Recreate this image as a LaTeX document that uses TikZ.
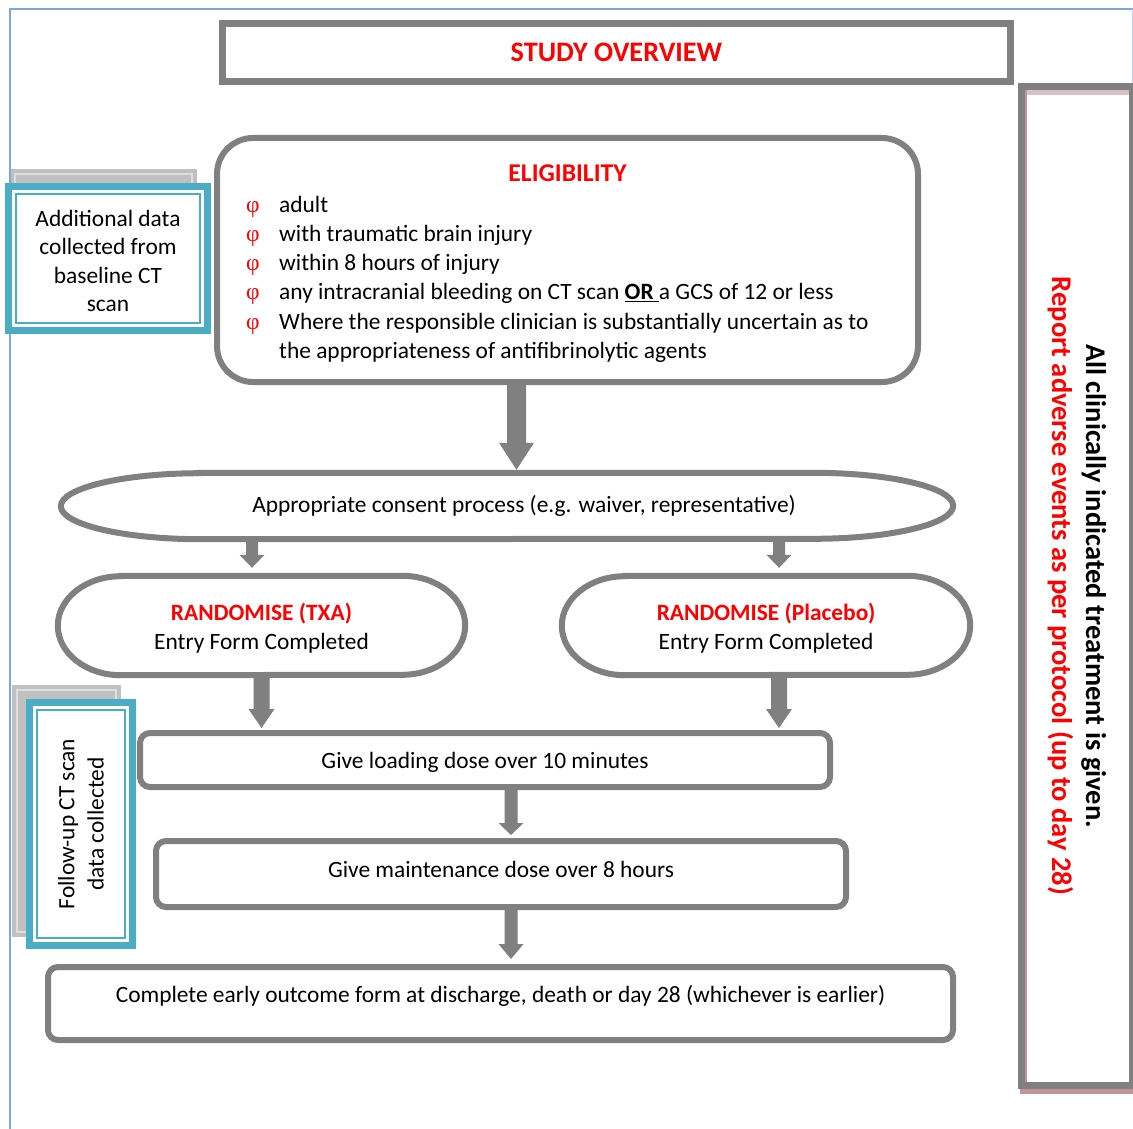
\documentclass[tikz,border=0pt]{standalone}
\usepackage{fontspec}
\setmainfont{Carlito}
\newfontfamily\phifont{Liberation Serif}
\usetikzlibrary{calc}
\definecolor{framegray}{RGB}{128,128,128}
\definecolor{tealblue}{RGB}{75,172,198}
\definecolor{pageblue}{RGB}{125,168,222}
\definecolor{shadowgray}{RGB}{192,192,192}
\definecolor{shadowlight}{RGB}{222,222,222}
\definecolor{rosy}{RGB}{192,150,153}
\newcommand\critbullet{\textcolor{red}{\phifont φ}}
% block arrow: start, end, shaft half width, head half width, head length
\newcommand\blockarrow[5]{\fill[framegray] let \p1=(#1), \p2=(#2) in
  (\x1-#3,\y1) -- (\x1+#3,\y1) -- (\x1+#3,\y2+#5) -- (\x1+#4,\y2+#5) -- (\x1,\y2)
  -- (\x1-#4,\y2+#5) -- (\x1-#3,\y2+#5) -- cycle;}
% frame with elliptic ends around a node
\newcommand\capframe[3]{\draw[frame] ([xshift=#2]#1.north west) -- ([xshift=-#2]#1.north east)
  arc[start angle=90,end angle=-90,x radius=#2,y radius=#3]
  -- ([xshift=#2]#1.south west)
  arc[start angle=270,end angle=90,x radius=#2,y radius=#3] -- cycle;}
\begin{document}
\begin{tikzpicture}[x=1pt,y=-1pt,font=\fontsize{23.4}{29.3}\selectfont,
  frame/.style={draw=framegray,line width=6pt},
  stepbox/.style={frame,rounded corners=10pt,inner sep=0pt},
  bluebox/.style={draw=tealblue,line width=7pt,align=center,inner sep=0pt,outer sep=0pt},
  redbold/.style={text=red,font=\fontsize{23.4}{29.3}\selectfont\bfseries}]
\useasboundingbox (0,0) rectangle (1133,1129);
\fill[white] (0,0) rectangle (1133,1129);
% page border
\draw[pageblue,line width=2pt] (9.5,1129) -- (9.5,9.5) -- (1133,9.5);
\draw[pageblue!50,line width=1pt] (1132,9.5) -- (1132,83);

% title
\node[draw=framegray,line width=7pt,minimum width=788pt,minimum height=58pt,redbold,
  font=\fontsize{28.2}{33}\selectfont\bfseries] (title) at (616.5,52.5) {STUDY OVERVIEW};

% eligibility
\node[frame,rounded corners=36pt,minimum width=701pt,minimum height=244pt] (elig) at (567.5,260) {};
\node[redbold,font=\fontsize{25.6}{30}\selectfont\bfseries] (eligt) at (567.5,173) {ELIGIBILITY};
\node[anchor=base west,inner sep=0pt] (crit) at (246,212) {\begin{tabular}[t]{@{}p{33pt}@{}l@{}}
\critbullet & adult\\
\critbullet & with traumatic brain injury\\
\critbullet & within 8 hours of injury\\
\critbullet & any intracranial bleeding on CT scan \underline{\textbf{OR }}a GCS of 12 or less\\
\critbullet & Where the responsible clinician is substantially uncertain as to\\
 & the appropriateness of antifibrinolytic agents
\end{tabular}};

% consent
\node[minimum width=892pt,minimum height=66pt,inner sep=0pt,
  label={[xshift=17pt]center:Appropriate consent process (e.g. waiver, representative)}] (cons) at (507,506) {};
\capframe{cons}{140pt}{33pt}

% randomise
\node[minimum width=407pt,minimum height=99pt,inner sep=0pt,
  label={[align=center,yshift=-2.5pt]center:{\textcolor{red}{\bfseries RANDOMISE (TXA)}\\Entry Form Completed}}] (txa) at (261.5,625.5) {};
\capframe{txa}{63pt}{49.5pt}
\node[minimum width=408pt,minimum height=99pt,inner sep=0pt,
  label={[align=center,yshift=-2.5pt]center:{\textcolor{red}{\bfseries RANDOMISE (Placebo)}\\Entry Form Completed}}] (plc) at (766,625.5) {};
\capframe{plc}{63pt}{49.5pt}

% steps
\node[stepbox,minimum width=690pt,minimum height=54pt,
  label={[yshift=-2pt]center:Give loading dose over 10 minutes}] (load) at (485,760) {};
\node[stepbox,minimum width=690pt,minimum height=66pt,
  label={[yshift=5pt]center:Give maintenance dose over 8 hours}] (maint) at (501,874) {};
\node[stepbox,minimum width=905pt,minimum height=73pt,
  label={[yshift=7.5pt]center:Complete early outcome form at discharge, death or day 28 (whichever is earlier)}] (final) at (500.5,1003.5) {};

% arrows
\blockarrow{$(elig.south)+(-51,0)$}{$(cons.north)+(0,-3)$}{9.5pt}{17.5pt}{27pt}
\blockarrow{$(cons.south)+(-255,0)$}{$(txa.north)+(0,-8)$}{6pt}{12.5pt}{13pt}
\blockarrow{$(cons.south)+(272,0)$}{$(plc.north)+(0,-8)$}{6pt}{12.5pt}{13pt}
\blockarrow{txa.south}{$(load.north)+(0,-2)$}{8pt}{13pt}{19pt}
\blockarrow{$(plc.south)+(13,0)$}{$(load.north)+(0,-2)$}{8pt}{13pt}{19pt}
\blockarrow{$(load.south)+(26,0)$}{$(maint.north)+(0,-3)$}{6.5pt}{12.5pt}{12pt}
\blockarrow{$(maint.south)+(10,0)$}{$(final.north)+(0,-5)$}{6.5pt}{12.5pt}{15pt}

% additional data box
\fill[shadowgray] (10.5,169) rectangle (197,320);
\draw[shadowlight,line width=1.5pt] (15,174) rectangle (192,315);
\node[bluebox,fill=white,minimum width=199pt,minimum height=144pt,
  label={[align=center,yshift=-2.5pt,font=\fontsize{23.4}{28.4}\selectfont]center:Additional data\\collected from\\baseline CT\\scan}] (addl) at (108,258.5) {};
\draw[tealblue,line width=1.5pt] ($(addl.center)+(-92,-64.5)$) rectangle ($(addl.center)+(92,64.5)$);

% follow-up box
\fill[shadowgray] (12,685) rectangle (121,937);
\draw[shadowlight,line width=1.5pt] (17,690) rectangle (116,932);
\node[bluebox,fill=white,rotate=90,minimum width=243pt,minimum height=103pt] (fup) at (81,824)
  {Follow-up CT scan\\data collected};
\draw[tealblue,line width=1.5pt] ($(fup.center)+(-44,-114)$) rectangle ($(fup.center)+(44,114)$);

% right box
\draw[rosy!60,line width=5pt] (1025,92.5) -- (1129,92.5);
\draw[rosy,line width=5pt] (1020,1091.5) -- (1133,1091.5);
\node[draw=framegray,line width=7pt,rotate=-90,minimum width=999pt,minimum height=110.5pt,
  align=center,inner sep=0pt,font=\fontsize{28.5}{34}\selectfont\bfseries] (rbox) at (1076.75,586)
  {All clinically indicated treatment is given.\\\textcolor{red}{Report adverse events as per protocol (up to day 28)}};
\draw[rosy,line width=2.5pt] (1026.2,90) -- (1026.2,1082);
\end{tikzpicture}
\end{document}
